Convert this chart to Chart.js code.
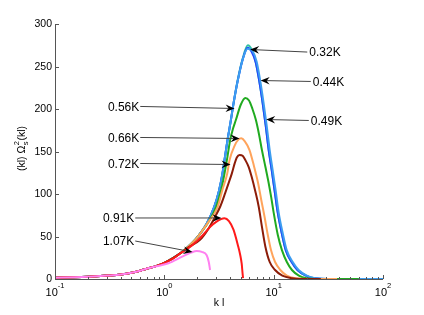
<!DOCTYPE html>
<html>
<head>
<meta charset="utf-8">
<script src="https://cdn.jsdelivr.net/npm/chart.js@4.4.1/dist/chart.umd.min.js"></script>
<style>
  html, body { margin: 0; padding: 0; background: #fff; }
</style>
</head>
<body>
<canvas id="spectrumChart" width="424" height="315"></canvas>
<script>
// temperatures (arrow labels)
const temps = ['0.32K', '0.44K', '0.49K', '0.56K', '0.66K', '0.72K', '0.91K', '1.07K']
const colors = ['#2fbfa2', '#2244ff', '#3d9df0', '#20aa20', '#ffa45c', '#8c1c08', '#ff1a1a', '#ff80f0']

// shared low-k tail
const kLow = [0.1, 0.15, 0.2, 0.3, 0.4, 0.5, 0.6, 0.71]
const vLow = [1.5, 2, 2.6, 4, 5.3, 7.3, 9.8, 12.6]

const k032 = [0.85, 1.0, 1.2, 1.39, 1.65, 1.91, 2.2, 2.45, 2.86, 3.15, 3.4, 3.6, 3.8, 4.05, 4.3, 4.67, 5.2, 5.8, 6.35, 6.85, 7.38, 7.93, 8.45, 9.0, 9.6, 10.2, 10.9, 11.85, 12.9, 14.6, 16.5, 19.7, 23.8, 31, 100]
const v032 = [15.5, 19, 24.5, 30, 38, 46, 56, 65.5, 85, 103, 124, 145, 165, 186, 207, 233, 259, 275, 269, 255, 233, 207, 181, 152, 128, 104, 78, 54, 34, 20, 10.6, 4, 0.8, 0.1, 0]

const k044 = [0.85, 1.0, 1.2, 1.39, 1.65, 1.91, 2.2, 2.45, 2.86, 3.15, 3.4, 3.6, 3.8, 4.05, 4.3, 4.67, 5.2, 5.78, 6.3, 6.85, 7.38, 7.93, 8.45, 9.0, 9.6, 10.2, 10.9, 11.85, 12.9, 14.6, 16.5, 19.7, 23.8, 31, 100]
const v044 = [15.5, 19, 24.5, 30, 38, 46, 56, 65.5, 85, 103, 124, 145, 165, 186, 207, 232, 258, 272, 267, 255, 233, 207, 181, 152, 128, 104, 78, 54, 34, 20, 10.6, 4, 0.8, 0.1, 0]

const k049 = [0.85, 1.0, 1.2, 1.39, 1.65, 1.91, 2.2, 2.45, 2.86, 3.15, 3.4, 3.6, 3.8, 4.05, 4.3, 4.67, 5.2, 5.78, 6.42, 6.98, 7.52, 8.09, 8.62, 9.19, 9.79, 10.43, 11.11, 12.1, 13.16, 14.94, 16.9, 20.1, 24.3, 32, 100]
const v049 = [15.5, 19, 24.5, 30, 38, 46, 56, 65.5, 85, 103, 124, 145, 165, 186, 207, 232, 258, 271, 268, 256, 234, 207, 181, 152, 128, 104, 78, 54, 34, 20, 10.6, 4, 0.8, 0.1, 0]

const k056 = [0.85, 1.0, 1.2, 1.39, 1.65, 1.91, 2.2, 2.5, 2.98, 3.3, 3.55, 3.78, 4.0, 4.25, 4.51, 5.0, 5.5, 5.95, 6.4, 6.88, 7.35, 7.8, 8.4, 9.0, 9.5, 10, 10.9, 11.9, 13.2, 14.7, 17, 20, 26, 60]
const v056 = [15.5, 19, 24.5, 30, 38, 46, 56, 66, 85, 104, 124, 144, 163.5, 177, 187, 205, 213, 210, 200, 187, 170, 152, 132, 113, 96, 78, 52, 34, 20, 10.6, 4, 1, 0.1, 0]

const k066 = [0.85, 1.0, 1.2, 1.39, 1.65, 1.91, 2.2, 2.5, 3.08, 3.4, 3.76, 3.95, 4.4, 4.75, 5.05, 5.45, 6.0, 6.6, 7.2, 7.7, 8.26, 8.8, 9.45, 10.3, 11.5, 13.2, 15.8, 22, 38]
const v066 = [15.5, 19, 24.5, 30, 38, 46, 56, 66, 85, 105, 124, 140, 157, 164, 165.5, 162, 152, 133, 113, 93, 73, 53, 34, 20, 10.6, 4, 1, 0.1, 0]

const k072 = [0.85, 1.0, 1.2, 1.39, 1.65, 2.12, 2.5, 2.85, 3.24, 3.6, 3.9, 4.14, 4.4, 4.6, 4.88, 5.2, 5.5, 5.9, 6.3, 6.8, 7.3, 7.8, 8.4, 9.2, 10.3, 12, 14.7, 18, 27]
const v072 = [15.5, 19, 24.5, 30, 37, 46, 58, 71, 85, 101, 114, 124, 136, 143, 146, 145, 140, 132, 120, 103, 85, 62, 38, 20, 10.6, 4, 1, 0.1, 0]

const k091 = [0.85, 1.0, 1.2, 1.39, 1.65, 2.0, 2.3, 2.63, 3.0, 3.3, 3.55, 3.9, 4.29, 4.7, 4.95, 5.1, 5.2, 5.25]
const v091 = [15.5, 19, 24, 30, 36, 45, 53, 61.5, 67.5, 70.5, 71.4, 68, 58, 40, 28, 18, 6, 1]

const k107 = [0.85, 1.09, 1.44, 1.75, 1.98, 2.2, 2.44, 2.55, 2.62]
const v107 = [15, 18.5, 26, 31, 33, 32, 28, 20, 10.6]

const curveK = [k032, k044, k049, k056, k066, k072, k091, k107]
const curveV = [v032, v044, v049, v056, v066, v072, v091, v107]

const yTicks = [0, 50, 100, 150, 200, 250, 300]
const xDecades = [0.1, 1, 10, 100]
const xExponents = ['-1', '0', '1', '2']

// arrow labels: tip and tail in data units (k, value)
const arrows = [
    { text: '0.32K', tip: [6.09, 270], tail: [20.3, 267], side: 'right' },
    { text: '0.44K', tip: [7.6, 233.5], tail: [21.85, 232.4], side: 'right' },
    { text: '0.49K', tip: [8.54, 187.6], tail: [20.95, 186.5], side: 'right' },
    { text: '0.56K', tip: [4.39, 200.6], tail: [0.602, 203], side: 'left' },
    { text: '0.66K', tip: [4.88, 165.3], tail: [0.602, 166.5], side: 'left' },
    { text: '0.72K', tip: [4.03, 134.7], tail: [0.602, 135.9], side: 'left' },
    { text: '0.91K', tip: [3.33, 71.8], tail: [0.542, 71.8], side: 'left' },
    { text: '1.07K', tip: [1.807, 31.8], tail: [0.542, 44.7], side: 'left' }
]

const FONT = '"Liberation Sans", Arial, Helvetica, sans-serif'

const makePoints = (ks, vs) => kLow.map((k, i) => ({ x: k, y: vLow[i] })).concat(ks.map((k, i) => ({ x: k, y: vs[i] })))

// later temperatures are drawn on top, chart.js puts dataset 0 on top
const datasets = temps.map((t, i) => ({
    label: t,
    data: makePoints(curveK[i], curveV[i]),
    borderColor: colors[i],
    borderWidth: 2,
    pointRadius: 0,
    cubicInterpolationMode: 'monotone',
    fill: false
})).reverse()

const drawArrowHead = (ctx, from, to) => {
    const ang = Math.atan2(to.y - from.y, to.x - from.x)
    ctx.save()
    ctx.translate(to.x, to.y)
    ctx.rotate(ang)
    ctx.fillStyle = '#000'
    ctx.beginPath()
    ctx.moveTo(0, 0)
    ctx.lineTo(-9, -3.8)
    ctx.lineTo(-6, 0)
    ctx.lineTo(-9, 3.8)
    ctx.closePath()
    ctx.fill()
    ctx.restore()
}

const decorations = {
    id: 'decorations',
    afterDraw(chart) {
        const ctx = chart.ctx
        const xs = chart.scales.x, ys = chart.scales.y
        const area = chart.chartArea
        const px = (p) => ({ x: xs.getPixelForValue(p[0]), y: ys.getPixelForValue(p[1]) })

        ctx.save()
        // axes lines
        ctx.strokeStyle = '#555'
        ctx.lineWidth = 1
        ctx.beginPath()
        ctx.moveTo(area.left + 0.5, area.top)
        ctx.lineTo(area.left + 0.5, area.bottom + 0.5)
        ctx.lineTo(area.right, area.bottom + 0.5)
        ctx.stroke()

        // inside ticks
        ctx.beginPath()
        yTicks.forEach(v => {
            const y = Math.round(ys.getPixelForValue(v)) + 0.5
            ctx.moveTo(area.left, y)
            ctx.lineTo(area.left + 4, y)
        })
        xDecades.forEach((d, i) => {
            const x = Math.round(xs.getPixelForValue(d)) + 0.5
            ctx.moveTo(x, area.bottom)
            ctx.lineTo(x, area.bottom - 4)
            if (i < xDecades.length - 1) {
                for (let m = 2; m <= 9; m++) {
                    const xm = Math.round(xs.getPixelForValue(d * m)) + 0.5
                    ctx.moveTo(xm, area.bottom)
                    ctx.lineTo(xm, area.bottom - 2)
                }
            }
        })
        ctx.stroke()

        // y tick labels
        ctx.fillStyle = '#000'
        ctx.textBaseline = 'middle'
        ctx.textAlign = 'right'
        ctx.font = '10.5px ' + FONT
        yTicks.forEach(v => {
            ctx.fillText(String(v), area.left - 3, ys.getPixelForValue(v) + 0.5)
        })

        // x tick labels 10^n
        xDecades.forEach((d, i) => {
            const x = xs.getPixelForValue(d)
            ctx.font = '11px ' + FONT
            const wBase = ctx.measureText('10').width
            ctx.font = '7.5px ' + FONT
            const wExp = ctx.measureText(xExponents[i]).width
            const left = x - (wBase + wExp) / 2
            ctx.textAlign = 'left'
            ctx.font = '11px ' + FONT
            ctx.fillText('10', left, area.bottom + 14)
            ctx.font = '7.5px ' + FONT
            ctx.fillText(xExponents[i], left + wBase, area.bottom + 7)
        })

        // x title
        ctx.font = '10.5px ' + FONT
        ctx.textAlign = 'center'
        ctx.fillText('k l', (area.left + area.right) / 2, 303)

        // y title: (kl) Omega_s^2(kl)
        ctx.save()
        ctx.translate(22, 149)
        ctx.rotate(-Math.PI / 2)
        ctx.textAlign = 'left'
        ctx.font = '10.5px ' + FONT
        const p1 = '(kl) \u03A9', p3 = '(kl)'
        const w1 = ctx.measureText(p1).width
        const w3 = ctx.measureText(p3).width
        ctx.font = '7.5px ' + FONT
        const w2 = Math.max(ctx.measureText('2').width, ctx.measureText('s').width)
        const x0 = -(w1 + w2 + w3) / 2
        ctx.font = '10.5px ' + FONT
        ctx.fillText(p1, x0, 0)
        ctx.font = '7.5px ' + FONT
        ctx.fillText('2', x0 + w1 + 0.5, -5)
        ctx.fillText('s', x0 + w1 + 0.5, 4)
        ctx.font = '10.5px ' + FONT
        ctx.fillText(p3, x0 + w1 + w2 + 1, 0)
        ctx.restore()

        // arrows with labels
        ctx.font = '12px ' + FONT
        ctx.textBaseline = 'middle'
        arrows.forEach(a => {
            const tip = px(a.tip), tail = px(a.tail)
            const ang = Math.atan2(tip.y - tail.y, tip.x - tail.x)
            ctx.strokeStyle = '#444'
            ctx.lineWidth = 1
            ctx.beginPath()
            ctx.moveTo(tail.x, tail.y)
            ctx.lineTo(tip.x - 6 * Math.cos(ang), tip.y - 6 * Math.sin(ang))
            ctx.stroke()
            drawArrowHead(ctx, tail, tip)
            ctx.fillStyle = '#000'
            if (a.side === 'right') {
                ctx.textAlign = 'left'
                ctx.fillText(a.text, tail.x + 2, tail.y + 1)
            } else {
                ctx.textAlign = 'right'
                ctx.fillText(a.text, tail.x - 1, tail.y + 1)
            }
        })
        ctx.restore()
    }
}

new Chart('spectrumChart', {
    type: 'line',
    data: { datasets },
    options: {
        responsive: false,
        animation: false,
        devicePixelRatio: 1,
        layout: { padding: { top: 24, right: 41, left: 55, bottom: 36 } },
        plugins: { legend: { display: false }, tooltip: { enabled: false } },
        scales: {
            x: {
                type: 'logarithmic',
                min: 0.1,
                max: 100,
                display: false
            },
            y: {
                min: 0,
                max: 300,
                display: false
            }
        }
    },
    plugins: [decorations]
})
</script>
</body>
</html>
